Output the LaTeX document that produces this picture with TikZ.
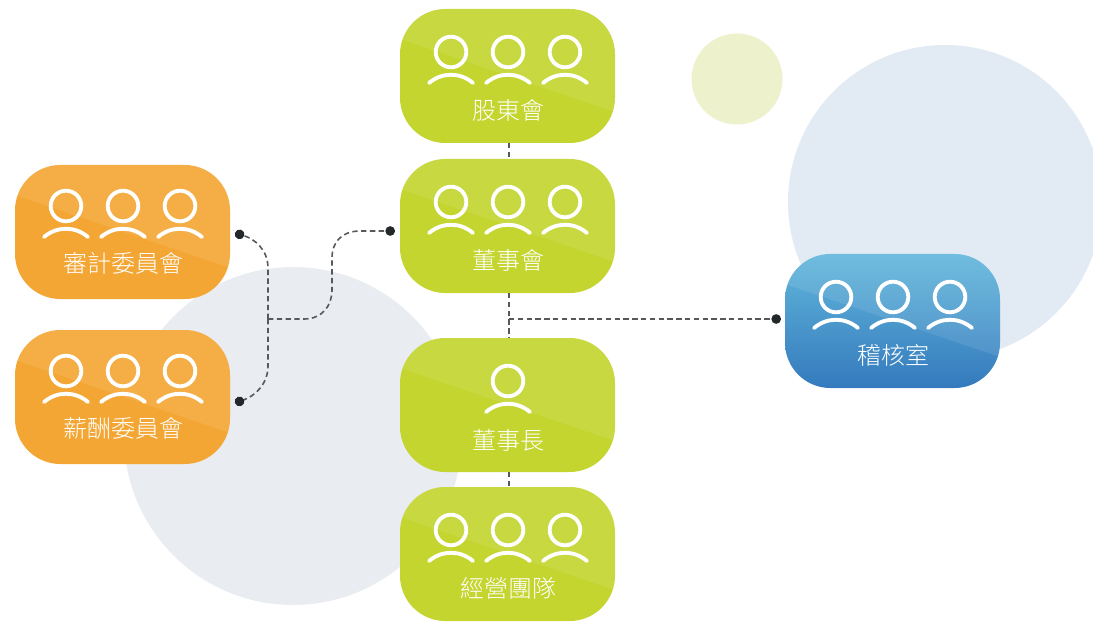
\documentclass[tikz,border=0pt]{standalone}
\usepackage{fontspec}
\usetikzlibrary{arrows.meta,calc}
\newfontfamily\cjk{Noto Sans CJK TC Light}
\definecolor{gbase}{HTML}{C3D52E}
\definecolor{obase}{HTML}{F3A633}
\definecolor{btop}{HTML}{62B7DC}
\definecolor{bbot}{HTML}{347ABD}
\definecolor{cgray}{HTML}{E9ECF0}
\definecolor{cblue}{HTML}{E2EBF4}
\definecolor{cgreen}{HTML}{EDF2CC}
\definecolor{conn}{HTML}{55595C}
\definecolor{tipc}{HTML}{23292B}
\tikzset{
  x=0.75pt,y=-0.75pt,
  card/.style={rectangle,rounded corners=34pt,minimum width=161.25pt,minimum height=100.5pt,inner sep=0pt,outer sep=0pt,
    path picture={
      \fill[white,opacity=.09,sharp corners] (path picture bounding box.north west) ++(0,30) -- ++(215,73) -- ++(0,-103) -- ++(-215,0) -- cycle;
    }},
  greencard/.style={card,fill=gbase},
  orangecard/.style={card,fill=obase},
  bluecard/.style={card,top color=btop,bottom color=bbot},
  cardlabel/.style={text=white,font=\cjk\fontsize{18}{20}\selectfont,inner sep=0pt},
  person/.style={draw=white,line width=2.9pt,line cap=round},
  link/.style={draw=conn,line width=1.2pt,dash pattern=on 4pt off 2.6pt},
  linkhead/.style={-{Circle[length=7.2pt,color=tipc]}},
}
\newcommand{\personat}[2]{%
  \draw[person] (#1,#2) circle (15.3);
  \draw[person] ($(#1,#2)+(-22,31)$) .. controls ($(#1,#2)+(-9,20)$) and ($(#1,#2)+(9,20)$) .. ($(#1,#2)+(22,31)$);
}
\newcommand{\threeat}[2]{\personat{#1-57}{#2}\personat{#1}{#2}\personat{#1+57}{#2}}
\begin{document}
\begin{tikzpicture}
\useasboundingbox (0,0) rectangle (1093,624);
\clip (0,0) rectangle (1093,624);
\fill[cgray] (293,436) circle (169);
\fill[cblue] (945,202) circle (157);
\fill[cgreen] (737,79) circle (45.5);

\node[greencard] (holders) at (507.5,76) {};
\node[greencard] (board) at (507.5,226) {};
\node[greencard] (chair) at (507.5,405) {};
\node[greencard] (team) at (507.5,554) {};
\node[orangecard] (audit) at (122.5,232) {};
\node[orangecard] (pay) at (122.5,397) {};
\node[bluecard] (inner) at (892.5,321) {};

\threeat{508}{52}
\threeat{508}{202}
\personat{508}{381}
\threeat{508}{530}
\threeat{123}{206}
\threeat{123}{371}
\threeat{893}{297}

\node[cardlabel] (t1) at (508,110) {股東會};
\node[cardlabel] (t2) at (508,260) {董事會};
\node[cardlabel] (t3) at (508,440) {董事長};
\node[cardlabel] (t4) at (508,588) {經營團隊};
\node[cardlabel] (t5) at (123,263) {審計委員會};
\node[cardlabel] (t6) at (123,428) {薪酬委員會};
\node[cardlabel] (t7) at (893,355) {稽核室};

\coordinate (branch) at (509,319);
\coordinate (fork) at (268,319);
\coordinate (audittip) at (235,233);
\coordinate (paytip) at (235,403);
\coordinate (boardtip) at (395,231);
\coordinate (innertip) at (781,319);

\draw[link] (holders.south -| branch) -- (board.north -| branch);
\draw[link] (board.south -| branch) -- (chair.north -| branch);
\draw[link] (chair.south -| branch) -- (team.north -| branch);
\draw[link,linkhead] (branch) -- (innertip);
\draw[link,linkhead] (fork) -- (268,268) .. controls (268,250) and (255,239) .. (audittip);
\draw[link,linkhead] (fork) -- (268,366) .. controls (268,384) and (255,396) .. (paytip);
\draw[link,linkhead] (fork) -- (304,319) .. controls (322,319) and (332,306) .. (332,290) -- (332,258) .. controls (332,242) and (342,231) .. (360,231) -- (boardtip);
\end{tikzpicture}
\end{document}
